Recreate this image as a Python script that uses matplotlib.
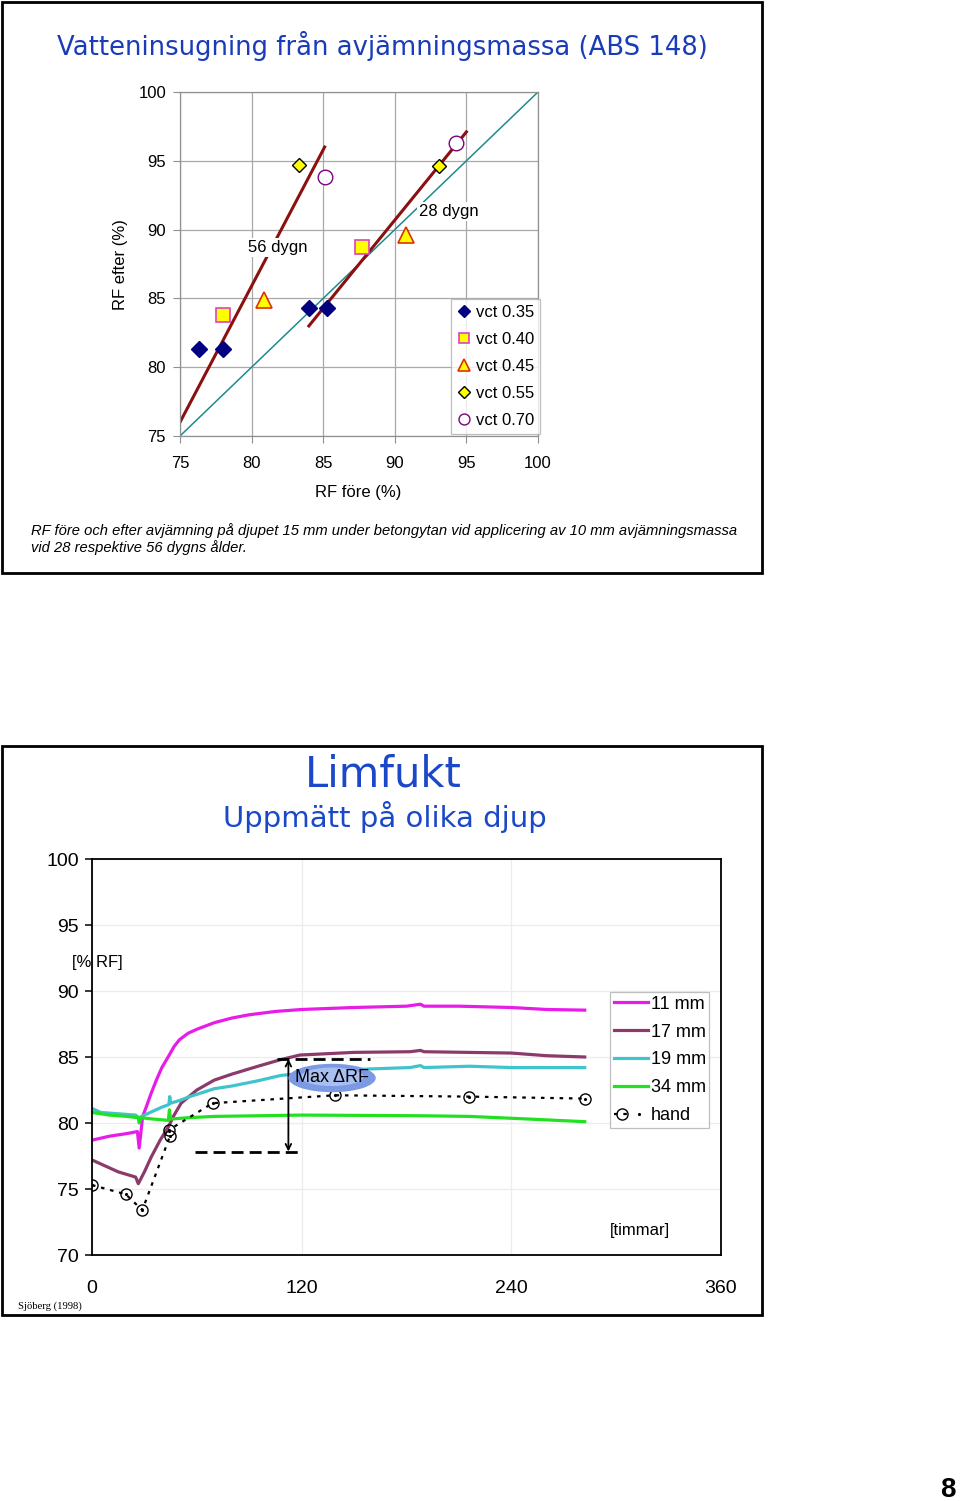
import matplotlib
matplotlib.use('Agg')
from matplotlib import pyplot as plt
from matplotlib.patches import Rectangle, Ellipse
from matplotlib.legend_handler import HandlerTuple

plt.rcParams['font.family'] = ['Liberation Sans', 'DejaVu Sans']

# --- top chart: RF before / after levelling compound ---
vct_labels = ['vct 0.35', 'vct 0.40', 'vct 0.45', 'vct 0.55', 'vct 0.70']
rf_fore = [[76.3, 78.0, 84.0, 85.3], [78.0, 87.7], [80.9, 90.8], [83.3, 93.1], [85.1, 94.3]]
rf_efter = [[81.3, 81.3, 84.3, 84.3], [83.8, 88.7], [84.9, 89.6], [94.7, 94.6], [93.8, 96.3]]

trend56_x = [75.0, 85.1]
trend56_y = [76.0, 96.0]
trend28_x = [84.0, 95.0]
trend28_y = [83.0, 97.1]
ref_line = [75, 100]

# --- bottom chart: Limfukt, RF at different depths ---
t_11 = [0, 10, 20, 26, 27, 29, 31, 34, 37, 40, 44, 47, 50, 55, 60, 70, 80, 90, 105, 120, 150, 180, 188, 190, 210, 240, 260, 282]
rf_11 = [78.7, 79.0, 79.2, 79.35, 78.1, 80.5, 81.2, 82.3, 83.3, 84.2, 85.1, 85.8, 86.3, 86.8, 87.1, 87.6, 87.95, 88.2, 88.45,
         88.6, 88.75, 88.85, 89.0, 88.85, 88.85, 88.75, 88.6, 88.55]
t_17 = [0, 10, 15, 25, 26.5, 30, 34, 39, 43.7, 47, 51, 60, 70, 80, 95, 108, 119, 150, 182, 188, 190, 240, 260, 282]
rf_17 = [77.2, 76.6, 76.3, 75.9, 75.4, 76.3, 77.45, 78.7, 79.7, 80.6, 81.5, 82.5, 83.25, 83.7, 84.3, 84.8, 85.15, 85.35,
         85.4, 85.5, 85.4, 85.3, 85.1, 85.0]
t_19 = [0, 5, 15, 25, 27, 30, 35, 40, 44, 44.5, 45, 50, 56, 70, 80, 95, 108, 130, 160, 182, 188, 190, 216, 240, 282]
rf_19 = [81.1, 80.8, 80.7, 80.6, 80.4, 80.6, 80.9, 81.2, 81.4, 82.0, 81.5, 81.7, 82.0, 82.6, 82.8, 83.2, 83.6, 83.9, 84.1,
         84.2, 84.35, 84.2, 84.3, 84.2, 84.2]
t_34 = [0, 10, 20, 26.5, 27, 28, 35, 43.7, 44.3, 45, 55, 70, 120, 188, 216, 250, 282]
rf_34 = [80.8, 80.6, 80.5, 80.4, 80.0, 80.4, 80.3, 80.2, 81.0, 80.3, 80.4, 80.5, 80.6, 80.55, 80.5, 80.3, 80.1]
t_hand = [0, 19.3, 28.8, 44.6, 44.3, 69, 139, 216, 282]
rf_hand = [75.3, 74.6, 73.4, 79.0, 79.5, 81.5, 82.1, 82.0, 81.85]

max_rf_top = 84.85
max_rf_bottom = 77.84

fig = plt.figure(figsize=(9.6, 15.01), dpi=100)
W, H = 960.0, 1501.0


def fx(px):
    return px / W


def fy(py):
    return 1 - py / H


# panel frames
fig.patches.append(Rectangle((fx(2), fy(573)), 760 / W, 571 / H, transform=fig.transFigure,
                             fill=False, edgecolor='black', linewidth=2))
fig.patches.append(Rectangle((fx(2), fy(1315)), 760 / W, 569 / H, transform=fig.transFigure,
                             fill=False, edgecolor='black', linewidth=2))

# ---------------- top chart ----------------
ax1 = fig.add_axes([fx(180), fy(436), 358 / W, 344 / H])
ax1.set_xlim(75, 100)
ax1.set_ylim(75, 100)
ax1.set_xticks(range(75, 101, 5))
ax1.set_yticks(range(75, 101, 5))
ax1.grid(True, color='#a8a8a8', linewidth=0.9)
ax1.set_axisbelow(True)
for s in ax1.spines.values():
    s.set_color('#909090')
    s.set_linewidth(0.9)
ax1.tick_params(colors='#909090', labelcolor='black', labelsize=12, length=5, direction='out')
ax1.tick_params(axis='x', pad=9.5)
ax1.tick_params(axis='y', pad=5)

ax1.plot(ref_line, ref_line, color='#1f8a8a', linewidth=1.1, zorder=2)
ax1.plot(trend56_x, trend56_y, color='#8b1010', linewidth=2.2, zorder=2)
ax1.plot(trend28_x, trend28_y, color='#8b1010', linewidth=2.2, zorder=2)
ax1.text(81.8, 88.7, '56 dygn', fontsize=12, ha='center', va='center', zorder=4,
         bbox=dict(facecolor='white', edgecolor='none', pad=1.5))
ax1.text(93.8, 91.3, '28 dygn', fontsize=12, ha='center', va='center', zorder=4,
         bbox=dict(facecolor='white', edgecolor='none', pad=1.5))

styles = [dict(marker='D', ms=8.5, mfc='#000080', mec='#000080'),
          dict(marker='s', ms=10.5, mfc='#ffff00', mec='#e040c0', mew=1.2),
          dict(marker='^', ms=12, mfc='#ffff00', mec='#e03000', mew=1.2),
          dict(marker='D', ms=7.5, mfc='#ffff00', mec='black', mew=1.0),
          dict(marker='o', ms=10.5, mfc='white', mec='#800080', mew=1.0)]
for lab, xs, ys, st in zip(vct_labels, rf_fore, rf_efter, styles):
    ax1.plot(xs, ys, linestyle='none', label=lab, zorder=5, **st)

leg1 = ax1.legend(loc='lower right', bbox_to_anchor=(1.006, 0.006), fontsize=12, markerscale=0.75,
                  frameon=True, fancybox=False, edgecolor='#b0b0b0', borderpad=0.35, borderaxespad=0,
                  handlelength=0.8, handletextpad=0.35, labelspacing=0.72)
leg1.get_frame().set_linewidth(0.9)

fig.text(fx(382), fy(46), 'Vatteninsugning från avjämningsmassa (ABS 148)', family='DejaVu Sans',
         fontsize=18.6, color='#1a3cb8', ha='center', va='center')
fig.text(fx(120), fy(265), 'RF efter (%)', fontsize=12, rotation=90, ha='center', va='center')
fig.text(fx(358), fy(492), 'RF före (%)', fontsize=12, ha='center', va='center')
fig.text(fx(31), fy(531), 'RF före och efter avjämning på djupet 15 mm under betongytan vid applicering av '
         '10 mm avjämningsmassa', fontsize=10.6, style='italic', ha='left', va='center')
fig.text(fx(31), fy(548), 'vid 28 respektive 56 dygns ålder.', fontsize=10.6, style='italic',
         ha='left', va='center')

# ---------------- bottom chart ----------------
ax2 = fig.add_axes([fx(92), fy(1255), 629 / W, 396 / H])
ax2.set_xlim(0, 360)
ax2.set_ylim(70, 100)
ax2.set_xticks([0, 120, 240, 360])
ax2.set_yticks(range(70, 101, 5))
ax2.grid(True, color='#ececec', linewidth=0.9)
ax2.set_axisbelow(True)
for s in ax2.spines.values():
    s.set_color('black')
    s.set_linewidth(1.3)
ax2.tick_params(axis='y', labelsize=14, length=5, width=1.1, pad=4.5)
ax2.tick_params(axis='x', labelsize=14, length=0, pad=18)

l11, = ax2.plot(t_11, rf_11, color='#e81ce8', linewidth=2.3, label='11 mm')
l17, = ax2.plot(t_17, rf_17, color='#8c3a6a', linewidth=2.3, label='17 mm')
l19, = ax2.plot(t_19, rf_19, color='#40c4cc', linewidth=2.3, label='19 mm')
l34, = ax2.plot(t_34, rf_34, color='#22e022', linewidth=2.3, label='34 mm')
lh, = ax2.plot(t_hand, rf_hand, color='black', linewidth=1.6, linestyle=(0, (1.6, 2.6)),
               marker='o', ms=8, mfc='none', mec='black', mew=1.0, zorder=4)
ld, = ax2.plot(t_hand, rf_hand, linestyle='none', marker='.', ms=2.5, color='black', zorder=4)

# Max delta RF annotation
ax2.plot([106, 159], [max_rf_top, max_rf_top], color='black', linewidth=2, dashes=(4.3, 2.2))
ax2.plot([59, 119], [max_rf_bottom, max_rf_bottom], color='black', linewidth=2, dashes=(4.3, 2.2))
ax2.annotate('', xy=(112.4, max_rf_top), xytext=(112.4, max_rf_bottom),
             arrowprops=dict(arrowstyle='<->', color='black', lw=1.3, shrinkA=0, shrinkB=0))
ax2.add_patch(Ellipse((137.4, 83.41), 50, 2.15, facecolor='#7c9ae4', edgecolor='none', zorder=5))
ax2.add_patch(Ellipse((137.4, 83.5), 36, 1.4, facecolor='#a9bff2', edgecolor='none', zorder=5))
ax2.text(137.4, 83.41, 'Max ΔRF', fontsize=13, ha='center', va='center', zorder=6)

leg2 = ax2.legend([l11, l17, l19, l34, (lh, ld)], ['11 mm', '17 mm', '19 mm', '34 mm', 'hand'],
                  handler_map={tuple: HandlerTuple(ndivide=None, pad=0)},
                  loc='upper left', bbox_to_anchor=(0.8235, 0.664), fontsize=13, frameon=True,
                  fancybox=False, edgecolor='#b0b0b0', borderpad=0.2, borderaxespad=0,
                  handlelength=1.9, handletextpad=0.15, labelspacing=0.6)
leg2.get_frame().set_linewidth(0.9)

fig.text(fx(383), fy(775), 'Limfukt', family='DejaVu Sans', fontsize=30, color='#1a48c8',
         ha='center', va='center')
fig.text(fx(385), fy(817), 'Uppmätt på olika djup', family='DejaVu Sans', fontsize=21, color='#1a48c8',
         ha='center', va='center')
fig.text(fx(97), fy(963), '[% RF]', fontsize=12, ha='center', va='center')
fig.text(fx(640), fy(1230), '[timmar]', fontsize=12, ha='center', va='center')
fig.text(fx(50), fy(1306), 'Sjöberg (1998)', family='Liberation Serif', fontsize=7.7, ha='center', va='center')
fig.text(fx(948), fy(1490), '8', fontsize=20, fontweight='bold', ha='center', va='center')

plt.savefig('out.png', dpi=100)
